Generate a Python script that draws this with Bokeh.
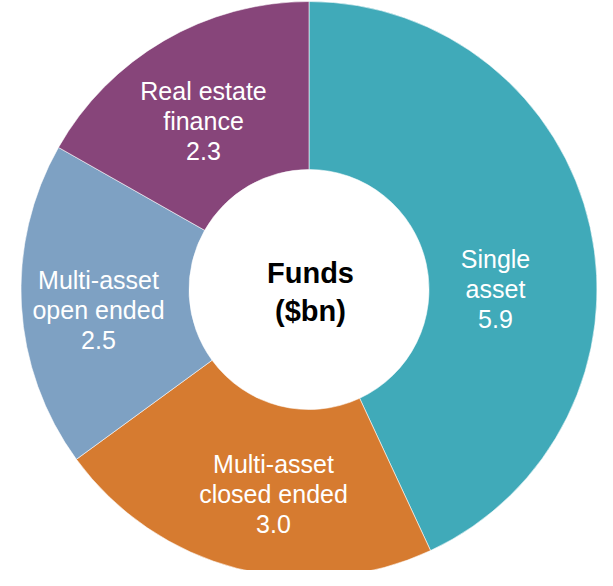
import math
from bokeh.plotting import figure
from bokeh.models import Range1d, ColumnDataSource
from bokeh.core.properties import value
from bokeh.embed import file_html
from bokeh.resources import INLINE

# ---- data ----
categories = ["Single asset", "Multi-asset closed ended", "Multi-asset open ended", "Real estate finance"]
label_lines = [["Single", "asset"], ["Multi-asset", "closed ended"], ["Multi-asset", "open ended"], ["Real estate", "finance"]]
values = [5.9, 3.0, 2.5, 2.3]
colors = ["#40AAB9", "#D67B30", "#7EA1C3", "#87457A"]
center_title = ["Funds", "($bn)"]

# ---- layout (pixel space: x right, y = -screen y) ----
W, H = 605, 570
cx, cy = 316.5, -297.0
r_outer, r_inner = 288.0, 120.0
# label centre (middle line) in screen px
label_pos = [(503, 296), (281, 501), (106, 317), (211, 128)]
line_gap = 30

total = sum(values)
starts, ends = [], []
cum = 0.0
for v in values:
    a0 = math.pi / 2 - 2 * math.pi * (cum + v) / total
    a1 = math.pi / 2 - 2 * math.pi * cum / total
    starts.append(a0)
    ends.append(a1)
    cum += v

src = ColumnDataSource(dict(start=starts, end=ends, color=colors, cat=categories))

p = figure(width=W, height=H, output_backend="svg", toolbar_location=None,
           x_range=Range1d(8, 8 + W), y_range=Range1d(-(8 + H), -8),
           min_border=0, border_fill_color="white", background_fill_color="white")
p.axis.visible = False
p.grid.visible = False
p.outline_line_color = None

p.annular_wedge(x=cx, y=cy, inner_radius=r_inner, outer_radius=r_outer,
                start_angle="start", end_angle="end", fill_color="color",
                line_color="white", line_width=0.8, line_alpha=0.7, source=src)

tx, ty, tt = [], [], []
for (lx, ly), lines, v in zip(label_pos, label_lines, values):
    all_lines = lines + [f"{v:.1f}"]
    for i, t in enumerate(all_lines):
        tx.append(lx)
        ty.append(-(ly + (i - 1) * line_gap))
        tt.append(t)
p.text(x=tx, y=ty, text=tt, text_color="white", text_font=value("Liberation Sans"),
       text_font_size="25px", text_align="center", text_baseline="middle")

p.text(x=[318, 318], y=[-280, -318], text=center_title, text_color="black",
       text_font=value("Liberation Sans"), text_font_style="bold",
       text_font_size="29px", text_align="center", text_baseline="middle")

open("out.html", "w").write(file_html(p, INLINE))
